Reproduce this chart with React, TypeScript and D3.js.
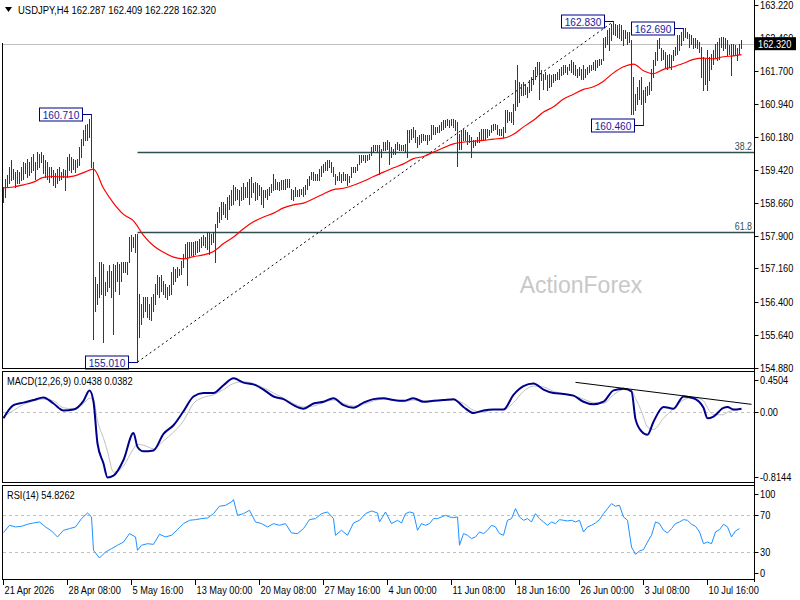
import React from "react";
import * as d3 from "d3";

// H4 bars, one high/low pair per bar, 21 Apr 2026 -> 13 Jul
const barHigh = [
  159.03,159.22,159.30,159.49,159.64,159.45,159.37,159.41,159.37,159.49,
  159.60,159.57,159.68,159.60,159.72,159.79,159.60,159.83,159.79,159.83,
  159.76,159.64,159.60,159.49,159.49,159.41,159.34,159.45,159.49,159.37,
  159.45,159.41,159.72,159.79,159.72,159.68,159.64,159.68,159.95,160.14,
  160.33,160.45,160.48,160.60,160.71,159.60,156.96,156.81,157.31,157.31,
  157.27,156.85,157.11,157.23,157.11,157.27,157.23,157.31,157.27,157.31,
  157.31,157.31,157.31,157.88,157.92,157.88,157.96,157.96,156.58,156.35,
  156.50,156.50,156.50,156.35,156.50,156.58,156.81,157.00,156.96,157.00,
  156.88,156.81,156.73,156.77,157.08,157.19,157.15,157.19,157.15,157.34,
  157.50,157.73,157.76,157.76,157.76,157.76,157.80,157.80,157.84,157.88,
  157.92,157.88,157.99,157.99,157.96,157.99,158.19,158.45,158.57,158.68,
  158.68,158.65,158.80,158.84,158.95,159.07,159.03,158.99,158.95,159.03,
  159.11,159.03,159.14,159.22,159.26,159.11,159.14,159.11,159.07,159.03,
  158.95,158.95,158.99,159.03,
  159.10,159.33,159.22,159.14,159.14,159.18,159.18,159.22,159.22,159.22,
  158.99,158.95,159.03,158.95,158.99,158.99,159.03,159.07,159.22,159.29,
  159.37,159.37,159.33,159.33,159.45,159.52,159.56,159.60,159.64,159.64,
  159.60,159.49,159.33,159.29,159.37,159.33,159.37,159.33,159.33,159.29,
  159.49,159.49,159.49,159.56,159.76,159.76,159.76,159.76,159.76,159.79,
  159.95,159.99,159.99,159.99,159.99,159.91,160.06,160.06,160.10,160.06,
  159.95,159.91,160.02,160.06,160.02,159.99,159.99,160.02,160.33,160.33,
  160.37,160.41,160.33,160.18,160.22,160.25,160.25,160.22,160.22,160.22,
  160.45,160.45,160.41,160.41,160.45,160.52,160.56,160.56,160.60,160.56,
  160.60,160.60,160.56,160.52,160.25,160.33,160.37,160.33,160.29,160.22,
  160.18,160.10,160.10,160.18,160.29,160.37,160.37,160.37,160.37,160.33,
  160.45,160.48,160.48,160.45,160.37,160.37,160.41,160.79,160.79,160.75,
  160.75,160.94,161.48,161.82,161.44,161.40,161.44,161.40,161.33,161.48,
  161.56,161.71,161.79,161.90,161.90,161.71,161.63,161.67,161.60,161.63,
  161.60,161.63,161.63,161.67,161.75,
  161.79,161.83,161.83,161.79,161.86,161.94,161.90,161.83,161.75,161.79,
  161.75,161.83,161.75,161.79,161.83,161.83,161.90,161.94,161.94,161.98,
  161.98,162.44,162.48,162.63,162.67,162.78,162.83,162.78,162.75,162.78,
  162.75,162.63,162.63,162.59,162.59,162.40,161.56,161.17,161.33,161.48,
  161.56,161.25,161.33,161.36,161.44,161.75,161.94,162.13,162.40,162.44,
  162.21,162.17,162.13,162.06,162.09,162.06,162.17,162.25,162.52,162.52,
  162.59,162.69,162.67,162.59,162.55,162.52,162.44,162.44,162.40,162.36,
  162.25,162.02,161.98,162.17,162.02,162.09,162.17,162.32,162.36,162.44,
  162.48,162.48,162.44,162.40,162.29,162.32,162.32,162.29,162.21,162.32,
  162.41,
];

const barLow = [
  158.68,158.80,159.03,159.11,159.18,159.22,159.03,159.11,159.11,159.18,
  159.22,159.34,159.26,159.30,159.37,159.41,159.22,159.45,159.49,159.60,
  159.34,159.26,159.22,159.14,159.26,159.07,159.03,159.11,159.18,159.22,
  159.26,158.95,159.26,159.41,159.37,159.45,159.37,159.49,159.53,159.72,
  159.99,160.10,160.10,160.18,159.49,155.54,156.19,156.35,156.50,156.58,
  155.47,156.54,156.65,156.73,156.50,155.66,156.65,156.88,156.58,156.88,
  157.08,157.08,157.04,157.31,157.57,157.65,157.54,155.01,155.58,155.89,
  156.04,156.19,156.04,156.00,155.97,156.19,156.35,156.58,156.50,156.65,
  156.58,156.50,156.46,156.54,156.58,156.81,156.88,156.96,157.00,157.04,
  157.19,157.42,156.77,157.42,157.46,157.46,157.50,157.54,157.57,157.65,
  157.69,157.65,157.61,157.50,157.73,157.76,157.31,158.11,158.22,158.30,
  158.42,158.34,158.30,158.53,158.61,158.65,158.72,158.76,158.61,158.72,
  158.76,158.80,158.80,158.65,158.80,158.91,158.72,158.76,158.84,158.65,
  158.57,158.80,158.76,158.84,
  158.91,158.95,158.99,158.99,158.95,158.99,158.99,158.99,159.03,159.03,
  158.76,158.72,158.83,158.83,158.83,158.87,158.83,158.87,158.99,159.07,
  159.22,159.18,159.18,159.18,159.18,159.29,159.37,159.41,159.41,159.49,
  159.37,159.29,159.10,159.18,159.18,159.14,159.18,159.18,159.07,159.14,
  159.26,159.37,159.37,159.41,159.56,159.60,159.64,159.60,159.64,159.68,
  159.76,159.83,159.87,159.83,159.33,159.72,159.87,159.87,159.91,159.56,
  159.72,159.79,159.79,159.91,159.87,159.87,159.87,159.83,159.72,160.06,
  160.14,160.18,160.06,159.95,160.02,160.06,160.10,160.10,160.02,160.10,
  160.14,160.25,160.25,160.29,160.29,160.33,160.37,160.41,160.45,160.41,
  160.45,160.41,160.33,159.52,159.91,159.91,160.10,160.10,160.02,160.06,
  159.72,159.95,159.99,160.06,160.06,160.10,160.14,160.14,160.18,160.22,
  160.29,160.33,160.37,160.25,160.22,160.22,160.18,160.29,160.52,160.56,
  160.52,160.48,160.79,160.90,160.98,161.14,161.14,161.17,161.10,161.21,
  161.25,161.40,161.52,161.63,161.06,161.48,161.29,161.52,161.25,161.33,
  161.36,161.44,161.48,161.52,161.52,
  161.59,161.63,161.67,161.63,161.71,161.67,161.63,161.59,161.56,161.59,
  161.52,161.52,161.56,161.63,161.67,161.71,161.75,161.71,161.79,161.83,
  161.86,161.94,162.25,162.32,162.17,162.40,162.55,162.52,162.48,162.44,
  162.40,162.29,162.44,162.32,162.36,160.71,160.71,160.79,160.94,161.06,
  160.94,160.46,160.98,161.14,161.17,161.25,161.56,161.83,161.94,162.21,
  161.94,161.98,161.79,161.75,161.79,161.75,161.94,162.06,162.09,162.17,
  162.29,162.40,162.48,162.44,162.25,162.32,162.21,162.25,162.21,162.13,
  161.56,161.25,161.40,161.25,161.48,161.75,161.86,162.02,161.94,161.98,
  162.25,162.17,162.21,162.06,162.09,161.59,162.06,162.06,161.94,162.09,
  162.23,
];

// red moving average, read every 5 bars (last point = last bar)
const maValues = [
  159.01,159.03,159.08,159.14,159.25,159.27,159.26,159.28,159.36,159.44,
  159.00,158.66,158.40,158.25,157.92,157.68,157.53,157.42,157.38,157.43,
  157.47,157.55,157.73,157.88,158.07,158.23,158.34,158.43,158.55,158.62,
  158.66,158.76,158.87,158.97,159.00,159.07,159.16,159.27,159.37,159.47,
  159.56,159.68,159.73,159.83,159.93,160.02,160.06,160.08,160.10,160.13,
  160.15,160.24,160.41,160.56,160.75,160.87,161.05,161.16,161.27,161.33,
  161.46,161.65,161.79,161.85,161.70,161.63,161.73,161.79,161.87,161.96,
  161.99,161.97,162.02,162.04,162.07,
];

// MACD(12,26,9): bar index, main line, signal line
const macdAt = [
  0,5,10,15,20,25,30,35,40,43,45,47,50,52,55,60,65,67,70,
  75,80,85,90,95,100,105,110,115,120,125,130,135,140,145,150,155,160,165,170,
  175,180,185,190,195,200,205,210,215,220,225,230,235,240,245,250,255,260,265,
  270,275,280,285,290,295,300,305,310,314,316,319,322,325,330,335,340,345,350,
  352,355,360,362,365,369,
];
const macdMain = [
  -0.07,0.08,0.11,0.14,0.17,0.10,0.02,0.03,0.13,0.25,0.12,-0.36,-0.59,-0.75,-0.73,-0.55,-0.24,-0.40,-0.45,
  -0.44,-0.25,-0.15,0.01,0.18,0.22,0.22,0.31,0.39,0.34,0.32,0.26,0.18,0.15,0.08,0.04,0.10,0.12,0.16,0.08,
  0.05,0.11,0.15,0.16,0.14,0.13,0.16,0.12,0.13,0.14,0.15,0.06,-0.01,0.02,0.03,0.03,0.20,0.30,0.33,
  0.26,0.22,0.21,0.19,0.12,0.09,0.12,0.25,0.27,0.24,-0.08,-0.22,-0.26,-0.11,0.06,0.04,0.18,0.16,0.05,
  -0.07,-0.05,0.05,0.06,0.03,0.04,
];
const macdSignal = [
  -0.05,0.02,0.09,0.13,0.15,0.13,0.05,0.04,0.10,0.16,0.14,-0.10,-0.30,-0.45,-0.69,-0.62,-0.42,-0.37,-0.38,
  -0.42,-0.33,-0.23,-0.10,0.10,0.17,0.20,0.26,0.33,0.35,0.33,0.28,0.22,0.16,0.10,0.06,0.07,0.11,0.14,0.10,
  0.07,0.09,0.13,0.15,0.14,0.12,0.14,0.13,0.13,0.14,0.14,0.10,0.02,0.00,0.03,0.03,0.11,0.24,0.30,
  0.29,0.24,0.21,0.19,0.15,0.11,0.10,0.20,0.26,0.25,0.16,0.01,-0.17,-0.20,-0.07,0.04,0.14,0.17,0.13,
  0.05,-0.03,-0.03,0.00,0.02,0.04,
];
// descending trend line over MACD highs: [bar index, value]
const macdTrend = [[286, 0.343], [374, 0.09]];

// RSI(14)
const rsiAt = [
  0,3,6,9,12,15,18,21,24,27,30,33,36,39,42,44,45,48,51,54,57,60,63,66,67,69,72,75,
  78,81,84,87,90,93,96,99,102,105,108,111,114,115,117,120,123,126,129,132,135,138,
  141,144,147,150,153,156,159,162,165,166,169,172,175,178,181,184,187,188,191,194,197,
  199,201,203,205,207,209,211,213,215,217,219,221,223,225,227,228,230,232,234,236,238,
  240,242,244,246,248,250,252,254,256,258,260,262,264,266,268,270,272,274,276,278,
  280,282,284,286,288,290,292,294,296,298,300,302,304,306,308,310,312,314,316,318,
  320,322,324,326,328,330,332,334,336,338,340,342,344,346,348,350,352,354,356,358,
  360,362,364,366,368,
];
const rsiValues = [
  50.5,58.4,56.6,57.3,59.5,60.9,62.0,56.6,52.3,45.8,53.0,54.8,56.6,65.6,71.7,67.4,31.3,23.0,29.5,33.1,36.8,40.3,49.4,45.8,31.3,36.8,38.5,37.8,
  48.7,45.8,47.6,53.7,60.2,63.8,64.5,65.6,66.3,71.0,79.0,80.0,83.6,86.2,69.2,71.0,74.6,62.0,60.2,56.6,60.2,58.4,
  60.2,50.1,49.4,54.8,64.5,65.6,71.0,72.8,65.6,47.6,53.0,47.6,60.9,63.8,71.0,73.9,71.7,62.0,72.8,60.2,63.8,
  60.9,71.0,72.8,71.7,53.0,60.2,58.4,60.2,65.6,65.6,67.4,69.2,67.4,66.7,67.4,36.8,49.4,47.6,44.0,45.8,51.2,
  49.4,53.0,58.4,56.6,49.4,47.6,63.8,65.6,76.4,67.4,63.8,65.6,62.0,71.0,65.6,62.0,58.4,62.0,60.2,64.5,
  63.8,63.1,63.8,62.0,63.8,51.2,56.6,58.4,60.9,64.5,71.0,76.4,81.8,79.0,80.0,67.4,63.8,34.9,27.0,30.6,
  32.1,40.3,47.6,62.0,60.2,53.0,50.1,54.8,60.2,62.0,64.5,63.8,59.5,57.3,51.2,38.5,40.3,38.5,51.2,53.7,
  59.5,56.6,45.8,52.3,54.8,
];

const timeLabels = [
  "21 Apr 2026", "28 Apr 08:00", "5 May 16:00", "13 May 00:00", "20 May 08:00", "27 May 16:00",
  "4 Jun 00:00", "11 Jun 08:00", "18 Jun 16:00", "26 Jun 00:00", "3 Jul 08:00", "10 Jul 16:00",
];
const priceTicks = [163.22, 162.46, 161.7, 160.94, 160.18, 159.42, 158.66, 157.9, 157.16, 156.4, 155.64, 154.88];
const fibLevels = [0.382, 0.618];
const fibNames = ["38.2", "61.8"];

const FONT = "'Liberation Sans',Arial,sans-serif";
const BAR = "#1c3f5f";
const LAST = 162.32;

// narrow text, close to the terminal's Tahoma look
function NText({ x, y, children, anchor = "start", fill = "#000", sx = 0.84, size = 11 }: any) {
  return (
    <text transform={`translate(${x},${y}) scale(${sx},1)`} textAnchor={anchor} fill={fill} fontSize={size}>
      {children}
    </text>
  );
}

export default function App() {
  const n = barHigh.length;
  const x = d3.scaleLinear().domain([0, 375]).range([3.5, 753.5]);
  const yP = d3.scaleLinear().domain([154.88, 163.22]).range([367.7, 4.5]);
  const yM = d3.scaleLinear().domain([-0.8144, 0.4504]).range([483, 373]);
  const yR = d3.scaleLinear().domain([0, 100]).range([579.3, 486.8]);

  const maLine = d3.line<number>()
    .x((_, k) => x(Math.min(k * 5, n - 1)))
    .y(d => yP(d))
    .curve(d3.curveMonotoneX)(maValues);

  const macdPath = (vals: number[]) => d3.line<number>()
    .x((_, k) => x(macdAt[k]))
    .y(d => yM(d))
    .curve(d3.curveMonotoneX)(vals);

  const rsiPath = d3.line<number>()
    .x((_, k) => x(rsiAt[k]))
    .y(d => yR(d))(rsiValues);

  // swing points for the marker labels
  const lowIdx = d3.minIndex(barLow);
  const highIdx = d3.maxIndex(barHigh);
  const inRange = (a: number, b: number, arr: number[], fn: any) => a + fn(arr.slice(a, b));
  const markers = [
    { i: inRange(0, 100, barHigh, d3.maxIndex), hi: true },
    { i: lowIdx, hi: false },
    { i: highIdx, hi: true },
    { i: inRange(330, n, barHigh, d3.maxIndex), hi: true },
    { i: inRange(310, 330, barLow, d3.minIndex), hi: false },
  ].map(m => ({ ...m, v: m.hi ? barHigh[m.i] : barLow[m.i] }));

  const swingLow = barLow[lowIdx];
  const swingHigh = barHigh[highIdx];

  const axisX = 754.5;
  const clampLabel = (y: number, top: number, bottom: number) => Math.max(top + 7, Math.min(bottom - 6, y));
  const px = (v: number) => Math.round(v) + 0.5;

  return (
    <svg width={800} height={600} style={{ display: "block", position: "absolute", left: 0, top: 0, background: "#fff" }}
      fontFamily={FONT} fontSize={11}>
      <rect x={0} y={0} width={800} height={600} fill="#fff" />

      {/* watermark */}
      <text x={581} y={293} textAnchor="middle" fontSize={23} fill="#c8c8c8">ActionForex</text>

      {/* current price line */}
      <line x1={2} x2={axisX} y1={px(yP(LAST))} y2={px(yP(LAST))} stroke="#c0c0c0" />

      {/* fibonacci retracements */}
      {fibLevels.map((r, k) => {
        const lv = swingHigh - r * (swingHigh - swingLow);
        const yy = px(yP(lv));
        return (
          <g key={k}>
            <line x1={x(lowIdx)} x2={axisX} y1={yy} y2={yy} stroke="#2f4f4f" strokeWidth={1.3} />
            <NText x={752} y={yy - 3} anchor="end" fill="#2f4f4f" size={10.5}>{fibNames[k]}</NText>
          </g>
        );
      })}

      {/* trend line low -> high */}
      <line x1={x(lowIdx)} y1={yP(swingLow)} x2={x(highIdx)} y2={yP(swingHigh)} stroke="#000" strokeDasharray="2,3" />

      {/* bars */}
      <g stroke={BAR} shapeRendering="crispEdges">
        {barHigh.map((h, i) => (
          <line key={i} x1={x(i)} x2={x(i)} y1={yP(h)} y2={yP(barLow[i]) + 1} />
        ))}
      </g>

      {/* moving average */}
      <path d={maLine || ""} fill="none" stroke="#ff0000" strokeWidth={1.2} />

      {/* swing labels */}
      {markers.map((m, k) => {
        const bx = x(m.i);
        const yy = px(yP(m.v));
        const right = bx - 9;
        return (
          <g key={k}>
            <line x1={right} x2={bx} y1={yy} y2={yy} stroke="#000080" />
            <rect x={right - 43} y={yy - 6.5} width={43} height={13} fill="#fff" stroke="#000080" />
            <NText x={right - 21.5} y={yy + 4} anchor="middle" fill="#1a1aa0" sx={0.92}>{m.v.toFixed(3)}</NText>
          </g>
        );
      })}

      {/* title */}
      <path d="M5,7 L12,7 L8.5,12 Z" fill="#000" />
      <NText x={18} y={14} sx={0.86}>USDJPY,H4  162.287 162.409 162.228 162.320</NText>

      {/* main frame */}
      <line x1={2.5} x2={2.5} y1={43} y2={369} stroke="#000" />
      <line x1={2} x2={axisX} y1={368.5} y2={368.5} stroke="#000" />

      {/* price axis */}
      {priceTicks.map(t => (
        <g key={t}>
          <line x1={axisX} x2={axisX + 4} y1={px(yP(t))} y2={px(yP(t))} stroke="#000" />
          <NText x={760} y={yP(t) + 4}>{t.toFixed(3)}</NText>
        </g>
      ))}
      <rect x={755} y={yP(LAST) - 6.5} width={41} height={13} fill="#000" />
      <NText x={758} y={yP(LAST) + 4} fill="#fff">{LAST.toFixed(3)}</NText>

      {/* MACD panel */}
      <rect x={2.5} y={371.5} width={axisX - 2.5} height={111} fill="none" stroke="#000" />
      <line x1={3} x2={axisX} y1={px(yM(0))} y2={px(yM(0))} stroke="#c0c0c0" strokeDasharray="3,3" />
      <path d={macdPath(macdSignal) || ""} fill="none" stroke="#c0c0c0" strokeWidth={1} />
      <path d={macdPath(macdMain) || ""} fill="none" stroke="#00008b" strokeWidth={2} />
      <line x1={x(macdTrend[0][0])} y1={yM(macdTrend[0][1])} x2={x(macdTrend[1][0])} y2={yM(macdTrend[1][1])} stroke="#000" />
      <NText x={7} y={385}>MACD(12,26,9) 0.0438 0.0382</NText>
      {[0.4504, 0, -0.8144].map(v => {
        const yy = clampLabel(yM(v), 373, 483);
        return (
          <g key={v}>
            <line x1={axisX} x2={axisX + 4} y1={px(yy)} y2={px(yy)} stroke="#000" />
            <NText x={760} y={yy + 4}>{v === 0 ? "0.00" : v.toFixed(4)}</NText>
          </g>
        );
      })}

      {/* RSI panel */}
      <rect x={2.5} y={485.5} width={axisX - 2.5} height={94} fill="none" stroke="#000" />
      {[70, 30].map(v => (
        <line key={v} x1={3} x2={axisX} y1={px(yR(v))} y2={px(yR(v))} stroke="#c0c0c0" strokeDasharray="3,3" />
      ))}
      <path d={rsiPath || ""} fill="none" stroke="#1e90ff" strokeWidth={1} />
      <NText x={7} y={499}>RSI(14) 54.8262</NText>
      {[100, 70, 30, 0].map(v => {
        const yy = clampLabel(yR(v), 486.8, 579.3);
        return (
          <g key={v}>
            <line x1={axisX} x2={axisX + 4} y1={px(yy)} y2={px(yy)} stroke="#000" />
            <NText x={760} y={yy + 4}>{v}</NText>
          </g>
        );
      })}

      {/* right axis line */}
      <line x1={axisX} x2={axisX} y1={0} y2={582} stroke="#000" />

      {/* time axis */}
      {timeLabels.map((t, k) => {
        const xi = Math.round(x(k * 32)) - 0.5;
        return (
          <g key={t}>
            <line x1={xi} x2={xi} y1={580} y2={585} stroke="#000" />
            <NText x={xi + 1} y={594}>{t}</NText>
          </g>
        );
      })}
    </svg>
  );
}
